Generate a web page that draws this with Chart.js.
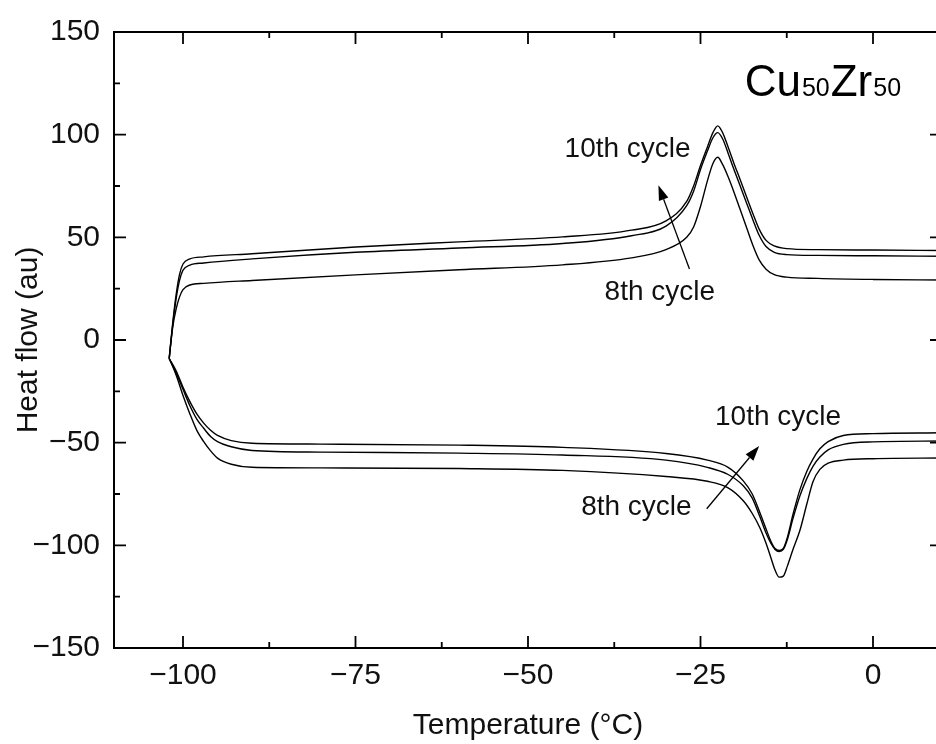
<!DOCTYPE html>
<html>
<head>
<meta charset="utf-8">
<script src="https://cdn.jsdelivr.net/npm/chart.js@4.4.1/dist/chart.umd.min.js"></script>
<style>
  html, body { margin: 0; padding: 0; background: #fff; overflow: hidden; }
  #wrap { width: 936px; height: 744px; overflow: hidden; }
</style>
</head>
<body>
<div id="wrap"><canvas id="dsc" width="960" height="744"></canvas></div>
<script>
// heating branch (upper loop), same temperatures for every cycle
const heatTemp = [-102, -101.5, -101, -100.5, -100, -99, -97, -90, -75, -60, -45, -35, -30, -27, -26, -25, -24, -23.2, -22.5, -21.8, -21, -20.2, -19.3, -18.3, -17.4, -16.5, -15.5, -14.3, -12.5, -8, 0, 10];
const heat8  = [-9, 6, 15, 21, 24.5, 26.8, 27.6, 29, 31.7, 34.2, 36.6, 40, 44, 50, 55, 65, 77.5, 86, 89, 85.5, 79.5, 72.5, 64, 54.5, 46, 39, 34.5, 31.8, 30.6, 30, 29.5, 29.2];
const heat9  = [-9, 7, 20, 29, 34, 36.5, 37.5, 39.5, 42.7, 44.8, 47, 50.8, 55.5, 65.5, 72.5, 83, 92, 98.5, 101, 98, 91, 83.5, 75.5, 66.5, 58.5, 51, 45.5, 42.7, 41.6, 41.2, 41, 40.8];
const heat10 = [-9, 8, 22, 32, 37, 39.5, 40.5, 42, 45.3, 47.8, 50.2, 53.5, 58, 67.5, 75, 85, 94, 101, 104.3, 101, 94, 86.5, 78.5, 69.5, 61.5, 54, 48.5, 45.8, 44.5, 44, 43.8, 43.6];

// cooling branch (lower loop)
const coolTemp = [-102, -101, -100, -99, -98, -97, -96, -95, -93, -90, -80, -60, -45, -30, -24, -21, -18.8, -17.5, -16.4, -15.5, -14.8, -14.2, -13.6, -13, -12.4, -11.6, -10.6, -9.6, -8.7, -7.7, -6.5, -4.3, 0, 10];
const cool8  = [-9, -17, -27, -36, -44, -49.5, -54, -57.5, -60.5, -62, -62.3, -62.6, -63.5, -66.5, -68.8, -72, -78.3, -84.5, -91.4, -99, -106, -112, -115.5, -115, -110, -102, -92.8, -80, -69, -63, -60, -58.5, -57.8, -57.5];
const cool9  = [-9, -16, -24, -32, -38.5, -43, -47, -49.5, -52, -53.8, -54.6, -55.1, -56, -58.5, -62, -65.5, -71, -77, -86, -94, -99, -102, -103, -102, -97, -87, -76, -67.5, -61.5, -57, -53.5, -50.8, -49.6, -49.2];
const cool10 = [-9, -15, -23, -30, -36, -40.5, -44, -46.5, -49, -50.3, -50.7, -51.2, -52.3, -55.3, -58.5, -62, -68.6, -75, -84, -92, -98, -101.5, -102.5, -101.5, -96, -85, -73, -64, -58, -53, -49.5, -46.5, -45.6, -45.2];

const xMin = -110, xMax = 10, xStep = 25;
const yMin = -150, yMax = 150, yStep = 50;

// text notes and arrows, in data units
const notes = [
  { text: "10th cycle", x: -44.7, y: 88.9 },
  { text: "8th cycle",  x: -38.9, y: 19.6 },
  { text: "10th cycle", x: -22.9, y: -41.5 },
  { text: "8th cycle",  x: -42.3, y: -85.1 }
];
const arrows = [
  { from: [-26.6, 34.6], to: [-31.1, 75.4] },
  { from: [-24.1, -82.2], to: [-16.5, -51.6] }
];

function pairs(xs, ys) {
  return xs.map((x, i) => ({ x: x, y: ys[i] }));
}

function line(xs, ys) {
  return {
    data: pairs(xs, ys),
    showLine: true,
    borderColor: "#000",
    borderWidth: 1.4,
    pointRadius: 0,
    cubicInterpolationMode: "monotone",
    fill: false
  };
}

const minus = v => (v < 0 ? "\u2212" + Math.abs(v) : String(v));

const frame = {
  id: "frame",
  afterDraw(chart) {
    const { ctx, chartArea: a, scales: { x, y } } = chart;
    ctx.save();
    ctx.strokeStyle = "#000";
    ctx.lineWidth = 2;
    ctx.strokeRect(a.left, a.top, a.right - a.left, a.bottom - a.top);

    ctx.lineWidth = 1.8;
    ctx.beginPath();
    const half = xStep / 2;
    for (let v = Math.ceil(xMin / half) * half; v <= xMax; v += half) {
      const major = (v % xStep) === 0;
      const len = major ? 12 : 6;
      const px = x.getPixelForValue(v);
      ctx.moveTo(px, a.bottom); ctx.lineTo(px, a.bottom - len);
      ctx.moveTo(px, a.top); ctx.lineTo(px, a.top + len);
    }
    for (let v = yMin + yStep / 2; v < yMax; v += yStep / 2) {
      const major = (v % yStep) === 0;
      const len = major ? 12 : 6;
      const py = y.getPixelForValue(v);
      ctx.moveTo(a.left, py); ctx.lineTo(a.left + len, py);
      ctx.moveTo(a.right, py); ctx.lineTo(a.right - len, py);
    }
    ctx.stroke();

    // notes
    ctx.fillStyle = "#111";
    ctx.font = "28px 'Liberation Sans', Arial, sans-serif";
    ctx.textAlign = "left";
    ctx.textBaseline = "alphabetic";
    notes.forEach(n => {
      ctx.fillText(n.text, x.getPixelForValue(n.x), y.getPixelForValue(n.y));
    });

    // arrows
    ctx.lineWidth = 1.3;
    arrows.forEach(ar => {
      const x0 = x.getPixelForValue(ar.from[0]), y0 = y.getPixelForValue(ar.from[1]);
      const x1 = x.getPixelForValue(ar.to[0]), y1 = y.getPixelForValue(ar.to[1]);
      const ang = Math.atan2(y1 - y0, x1 - x0);
      const hl = 15, hw = 5;
      const bx = x1 - hl * Math.cos(ang), by = y1 - hl * Math.sin(ang);
      ctx.beginPath();
      ctx.moveTo(x0, y0); ctx.lineTo(bx, by);
      ctx.stroke();
      ctx.beginPath();
      ctx.moveTo(x1, y1);
      ctx.lineTo(bx + hw * Math.sin(ang), by - hw * Math.cos(ang));
      ctx.lineTo(bx - hw * Math.sin(ang), by + hw * Math.cos(ang));
      ctx.closePath();
      ctx.fillStyle = "#000";
      ctx.fill();
    });

    // Cu50Zr50 with subscripts
    let cx = x.getPixelForValue(-18.6);
    const cy = y.getPixelForValue(119);
    ctx.fillStyle = "#000";
    const big = "44px 'Liberation Sans', Arial, sans-serif";
    const small = "25px 'Liberation Sans', Arial, sans-serif";
    [["Cu", big], ["50", small], ["Zr", big], ["50", small]].forEach(([t, f]) => {
      ctx.font = f;
      ctx.fillText(t, cx, cy);
      cx += ctx.measureText(t).width + 1;
    });
    ctx.restore();
  }
};

const tickFont = { family: "'Liberation Sans', Arial, sans-serif", size: 30 };

new Chart(document.getElementById("dsc").getContext("2d"), {
  type: "scatter",
  data: {
    datasets: [
      line(heatTemp, heat8), line(heatTemp, heat9), line(heatTemp, heat10),
      line(coolTemp, cool8), line(coolTemp, cool9), line(coolTemp, cool10)
    ]
  },
  options: {
    responsive: false,
    animation: false,
    layout: { padding: { top: 29, right: 18, left: 0, bottom: 0 } },
    plugins: { legend: { display: false }, tooltip: { enabled: false } },
    scales: {
      x: {
        type: "linear",
        min: xMin, max: xMax,
        grid: { display: false, drawTicks: false },
        border: { display: false },
        ticks: { stepSize: xStep, includeBounds: false, padding: 10, color: "#111", font: tickFont, callback: minus, maxRotation: 0 },
        title: { display: true, text: "Temperature (°C)", color: "#111", font: tickFont, padding: { top: 0, bottom: 0 } },
        afterFit: s => { s.height = 96; }
      },
      y: {
        type: "linear",
        min: yMin, max: yMax,
        grid: { display: false, drawTicks: false },
        border: { display: false },
        ticks: { stepSize: yStep, padding: 14, color: "#111", font: tickFont, callback: minus },
        title: { display: true, text: "Heat flow (au)", color: "#111", font: tickFont, padding: { top: 11, bottom: 0 } },
        afterFit: s => { s.width = 114; }
      }
    }
  },
  plugins: [frame]
});
</script>
</body>
</html>
